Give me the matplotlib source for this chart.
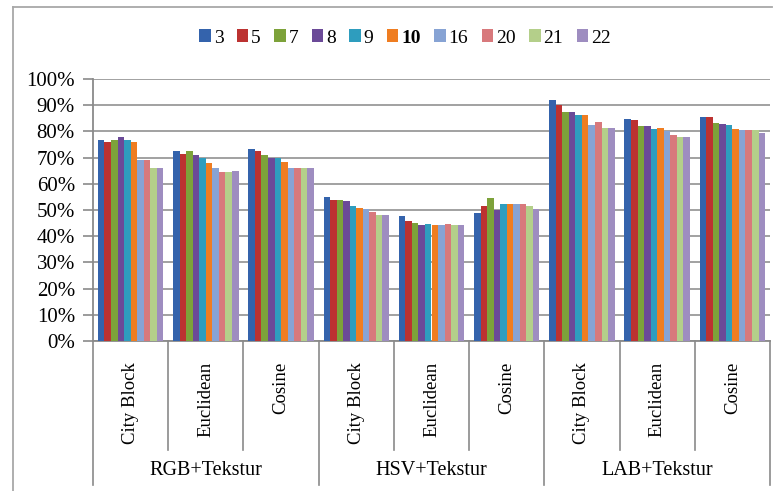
import matplotlib
matplotlib.use("Agg")
import matplotlib.pyplot as plt
from matplotlib.lines import Line2D
import numpy as np

plt.rcParams['font.family'] = ['Liberation Serif', 'DejaVu Serif']

groups = ["RGB+Tekstur", "HSV+Tekstur", "LAB+Tekstur"]
metrics = ["City Block", "Euclidean", "Cosine"]
series = ["3", "5", "7", "8", "9", "10", "16", "20", "21", "22"]

# values (%) per category (group x metric), one list per series order
rgb_city = [76.9, 75.8, 76.9, 77.7, 76.9, 75.8, 68.9, 68.9, 66.1, 65.9]
rgb_eucl = [72.7, 71.5, 72.7, 71.0, 69.8, 68.1, 66.2, 64.6, 64.6, 65.0]
rgb_cos = [73.1, 72.7, 71.0, 69.8, 69.8, 68.3, 66.2, 65.9, 65.9, 65.9]
hsv_city = [55.0, 53.7, 53.9, 53.6, 51.6, 50.7, 50.5, 49.4, 48.1, 48.1]
hsv_eucl = [47.6, 45.9, 45.2, 44.2, 44.7, 44.1, 44.1, 44.5, 44.1, 44.1]
hsv_cos = [48.9, 51.4, 54.6, 50.1, 52.1, 52.4, 52.4, 52.4, 51.4, 50.5]
lab_city = [92.0, 89.9, 87.4, 87.4, 86.2, 86.2, 82.6, 83.4, 81.4, 81.4]
lab_eucl = [84.8, 84.4, 81.9, 81.9, 80.9, 81.4, 80.3, 78.5, 77.9, 77.9]
lab_cos = [85.6, 85.6, 83.2, 82.8, 82.3, 80.9, 80.4, 80.4, 80.4, 79.2]

categories = [rgb_city, rgb_eucl, rgb_cos, hsv_city, hsv_eucl, hsv_cos,
              lab_city, lab_eucl, lab_cos]

colors = ["#3463AC", "#BC3231", "#7DA23A", "#6B4A98", "#2E9DBE",
          "#EF7D21", "#87A3D4", "#D8797C", "#B4CF8A", "#9E8DC0"]

W, H = 782, 491
fig = plt.figure(figsize=(W / 100, H / 100), dpi=100)
ax = fig.add_axes([93 / W, 1 - 341 / H, (770 - 93) / W, (341 - 79) / H])

data = np.array(categories)  # shape (9, 10)
n_cat, n_ser = data.shape
x = np.arange(n_cat)
total_w = 0.87
bw = total_w / n_ser
handles = []
for j in range(n_ser):
    offs = -total_w / 2 + bw * (j + 0.5)
    b = ax.bar(x + offs, data[:, j], width=bw, color=colors[j],
               label=series[j], zorder=3, linewidth=0)
    handles.append(b)

ax.set_xlim(-0.5, n_cat - 0.5)
ax.set_ylim(0, 100)
yt = np.arange(0, 101, 10)
ax.set_yticks(yt)
ax.set_yticklabels([f"{v}%" for v in yt], fontsize=15)
ax.yaxis.grid(True, color="#9a9a9a", linewidth=1.3, zorder=0)
ax.set_axisbelow(True)
ax.tick_params(axis='y', length=7, width=1.2, color="#8a8a8a", pad=6)
ax.set_xticks([])
for s in ["top", "right"]:
    ax.spines[s].set_visible(False)
ax.spines["left"].set_color("#8a8a8a")
ax.spines["left"].set_linewidth(1.3)
ax.spines["bottom"].set_color("#8a8a8a")
ax.spines["bottom"].set_linewidth(1.3)

trans = ax.get_xaxis_transform()
# category separators (long ones between groups)
for k in range(1, n_cat):
    y_end = -0.55 if k % 3 == 0 else -0.416
    ax.plot([k - 0.5, k - 0.5], [0, y_end], transform=trans, color="#8a8a8a",
            lw=1.2, clip_on=False)
for xe in [-0.5, n_cat - 0.5]:
    ax.plot([xe, xe], [0, -0.55], transform=trans, color="#8a8a8a",
            lw=1.2, clip_on=False)

for i in range(n_cat):
    ax.text(i, -0.08, metrics[i % 3], rotation=90, ha="center", va="top",
            fontsize=13.5, transform=trans)
for g in range(len(groups)):
    ax.text(3 * g + 1, -0.496, groups[g], ha="center", va="center",
            fontsize=14.5, transform=trans)

leg = fig.legend(handles=handles, loc="center", bbox_to_anchor=(405 / W, 1 - 38 / H),
                 ncol=10, frameon=False, fontsize=14, handlelength=0.6,
                 handleheight=0.6, handletextpad=0.15, columnspacing=0.68,
                 borderaxespad=0)
for t in leg.get_texts():
    if t.get_text() == "10":
        t.set_fontweight("bold")

# outer chart frame
fig.add_artist(Line2D([13 / W, 13 / W], [0, 1 - 7 / H], color="#a8a8a8", lw=1.3))
fig.add_artist(Line2D([13 / W, 772 / W], [1 - 7 / H, 1 - 7 / H], color="#a8a8a8", lw=1.3))

fig.savefig("out.png", dpi=100)
